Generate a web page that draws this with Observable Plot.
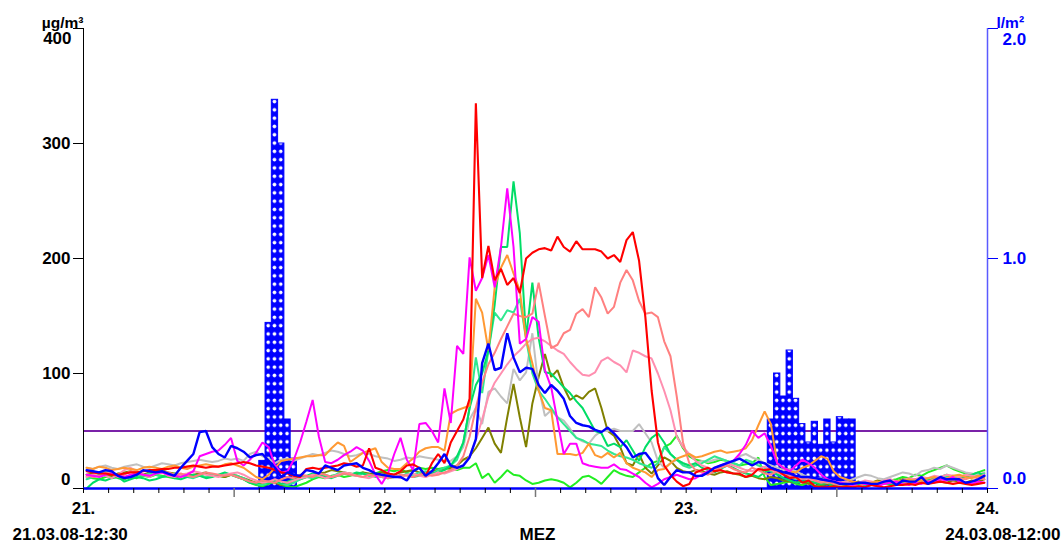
<!DOCTYPE html>
<html><head><meta charset="utf-8">
<script src="https://cdn.jsdelivr.net/npm/d3@7"></script>
<script src="https://cdn.jsdelivr.net/npm/@observablehq/plot@0.6"></script>
<style>body{margin:0;background:#fff}</style>
</head><body><div id="chart"></div>
<script>
// ---- labels ----
const dayLabels = ["21.", "22.", "23.", "24."];
const dayHours = [0, 24, 48, 72];
const leftTicks = [0, 100, 200, 300, 400];
const rightTicks = [0.0, 1.0, 2.0];
const leftUnit = "µg/m³";
const rightUnit = "l/m²";
const startLabel = "21.03.08-12:30";
const zoneLabel = "MEZ";
const endLabel = "24.03.08-12:00";
const limitValue = 50;

// ---- PM10 series (half-hourly, 144 values each) ----
const red = [15,14,13,13,12,12,13,14,14,15,16,16,17,17,18,18,19,20,19,18,19,19,20,21,
  22,23,22,20,19,18,16,14,13,11,10,17,18,17,18,19,20,22,21,19,20,35,18,16,
  13,12,15,20,21,18,11,22,30,22,40,50,60,78,335,183,211,181,191,177,183,170,200,205,
  208,209,207,219,210,206,215,208,208,208,206,200,203,197,216,223,198,149,85,40,20,12,6,2,
  4,14,16,18,15,16,14,13,13,10,12,17,16,17,16,12,9,10,5,7,2,1,1,2,
  1,2,1,2,1,3,2,1,2,3,3,4,3,5,4,5,6,5,4,5,4,3,4,5];
const salmon = [12,10,11,14,13,10,12,15,14,12,11,13,15,14,12,13,11,10,12,14,13,12,11,12,
  10,8,6,5,7,6,5,8,10,9,12,11,10,13,12,10,11,13,12,11,10,12,11,10,
  9,10,12,11,10,12,13,11,12,14,16,20,28,45,70,92,108,118,130,141,152,150,149,152,
  179,150,122,125,135,138,152,156,149,175,166,152,158,179,190,181,163,152,153,149,128,115,80,40,
  22,16,14,12,15,18,20,17,15,14,18,16,13,12,15,14,11,9,8,10,7,5,6,4,
  3,4,3,2,4,5,3,4,6,5,4,6,8,7,6,8,9,8,7,9,8,10,9,8];
const pink = [10,12,14,11,9,12,16,18,15,12,10,13,14,11,10,12,13,15,14,12,11,10,12,13,
  14,12,9,7,5,6,8,6,5,7,9,10,12,11,9,10,12,14,13,11,10,9,11,12,
  10,11,9,12,13,11,10,12,14,13,15,17,20,28,42,60,80,92,100,108,115,120,126,130,
  131,128,124,120,117,110,104,99,98,101,111,114,110,107,101,120,118,115,113,100,85,68,45,36,
  30,24,20,18,16,19,22,20,18,16,15,17,19,16,14,12,13,10,9,8,7,6,5,6,
  5,6,4,5,7,6,5,7,8,6,7,9,8,10,9,11,10,12,11,10,12,11,10,12];
const orange = [18,17,19,18,16,17,18,17,16,18,19,18,17,19,20,18,17,19,20,21,20,19,21,22,
  20,18,14,10,8,12,18,24,25,26,27,28,28,29,29,35,40,37,23,27,31,33,35,23,
  18,17,17,22,26,32,35,36,36,33,65,68,70,72,165,153,120,175,192,203,187,172,130,109,
  85,70,68,30,30,30,29,31,39,29,27,31,27,31,22,18,16,14,10,16,17,22,26,28,
  30,27,28,30,32,33,31,32,33,35,42,55,67,56,22,18,15,14,18,20,24,28,26,15,
  10,8,6,5,4,5,6,4,5,6,7,8,6,7,9,10,8,9,11,12,10,9,11,10];
const magenta = [12,11,10,12,13,11,10,12,13,12,11,13,14,12,11,10,12,15,28,30,32,33,38,44,
  24,20,25,31,40,36,20,14,15,25,40,58,77,45,23,22,25,29,32,36,33,24,12,4,
  13,30,44,25,16,56,57,50,40,87,57,124,117,201,172,183,203,175,210,261,210,126,130,149,
  145,103,88,59,30,39,39,22,20,19,18,18,21,17,16,13,10,5,1,4,8,10,12,10,
  8,9,12,15,18,20,22,24,30,38,50,44,48,37,22,18,15,20,25,22,18,12,8,6,
  5,4,3,5,4,3,2,4,5,6,4,3,5,4,6,5,8,7,10,6,5,4,6,5];
const springGreen = [0,5,8,7,9,10,6,8,10,9,7,8,10,11,9,8,10,12,11,9,10,12,14,12,
  10,8,5,4,6,5,7,4,6,8,10,11,13,12,10,9,11,13,12,14,13,11,12,10,
  9,10,11,12,10,11,12,13,14,16,20,28,40,70,90,100,120,160,210,210,267,222,131,179,
  131,101,100,94,88,83,76,70,60,50,48,37,39,36,42,33,24,36,44,48,40,30,25,22,
  20,22,18,16,14,17,20,18,15,13,12,10,14,16,12,9,7,5,6,8,5,4,5,3,
  3,2,4,3,2,3,4,5,3,4,5,6,4,5,7,8,10,12,9,8,10,12,14,11];
const mintGreen = [8,10,12,15,13,11,9,10,12,11,13,12,10,11,13,12,10,9,11,10,12,11,13,12,
  11,9,6,4,3,5,6,4,3,5,8,10,9,11,12,10,13,14,12,11,13,12,10,11,
  12,11,10,13,12,14,15,13,16,18,20,25,40,70,114,83,120,153,146,155,153,165,130,100,
  85,78,70,62,56,50,44,42,39,38,37,33,30,28,27,25,22,20,18,22,36,30,25,20,
  18,20,22,25,28,26,24,22,20,25,23,20,18,15,12,14,10,8,9,7,6,5,6,5,
  4,5,3,4,5,4,3,5,6,4,5,7,6,8,7,9,8,10,11,9,12,10,11,13];
const lime = [10,9,8,10,11,9,8,10,9,11,10,12,11,10,9,11,12,10,11,13,12,11,10,12,
  10,8,5,3,2,4,6,3,2,1,3,5,8,10,9,11,12,10,11,13,14,12,13,15,
  16,15,17,14,16,18,17,18,17,18,17,16,18,18,22,9,13,5,10,16,12,11,7,4,
  5,7,8,7,5,1,5,10,11,8,4,10,16,13,11,10,14,18,22,24,36,39,46,35,
  28,25,24,22,23,25,24,22,20,21,22,27,10,3,4,5,6,4,3,5,2,3,4,2,
  3,4,2,3,5,4,6,5,7,8,10,9,12,11,14,16,18,20,17,15,13,12,14,16];
const olive = [12,13,14,12,11,13,14,15,13,12,14,15,16,14,13,12,11,12,13,14,12,11,10,12,
  11,9,7,5,4,6,5,3,4,6,8,10,12,13,14,16,15,14,13,12,14,13,12,14,
  13,12,14,15,16,14,13,15,16,17,18,20,25,28,35,44,53,39,31,62,91,62,36,74,
  97,117,97,103,88,77,81,78,84,87,70,50,46,36,22,20,30,18,13,20,27,24,18,15,
  14,16,15,13,12,14,15,13,12,10,11,9,8,10,9,7,6,5,6,4,5,3,4,5,
  4,3,5,6,4,5,7,6,5,6,8,7,6,5,7,8,6,5,7,6,5,7,6,8];
const silver = [18,17,19,20,18,17,19,20,21,19,18,20,22,21,20,22,23,24,25,24,23,24,26,25,
  26,24,30,32,28,26,22,25,26,24,26,28,30,29,31,33,32,30,28,29,31,30,28,27,
  26,24,25,27,26,28,27,26,25,24,24,28,36,60,70,56,84,87,80,74,104,94,101,135,
  88,63,68,62,59,52,44,41,39,46,50,50,52,50,50,50,56,48,40,24,18,22,25,22,
  20,22,24,23,25,26,24,22,28,30,27,25,22,20,18,16,17,15,12,10,8,9,7,6,
  5,6,8,10,12,11,9,8,10,12,14,13,11,15,16,18,17,20,18,16,14,13,12,14];
const blue = [16,15,14,16,15,11,9,10,12,16,15,14,15,13,11,18,24,30,49,50,36,30,27,37,
  35,32,27,29,30,24,18,10,14,12,11,16,15,13,20,18,16,20,21,22,18,16,13,12,
  11,10,10,7,15,18,11,15,22,30,20,18,20,27,43,109,126,103,105,135,114,101,105,104,
  90,83,90,85,78,63,57,55,54,51,49,53,48,42,36,27,30,31,24,9,3,10,16,14,
  14,11,11,14,18,20,22,24,26,23,20,23,22,18,16,14,13,11,10,10,9,8,7,6,
  4,4,4,5,5,4,4,6,7,3,7,6,6,10,4,7,10,8,8,8,5,6,8,11];

// drawing order and colours
const seriesList = [lime, olive, silver, mintGreen, springGreen, pink, salmon, orange, magenta, red, blue];
const seriesColors = ["#22ee22", "#808000", "#c0c0c0", "#30e890", "#00dd66", "#ff8fb0", "#ff8080", "#ff9933", "#ff00ff", "#ff0000", "#0000ff"];
const seriesWidths = [2, 2, 2, 2, 2, 2, 2, 2, 2, 2.1, 2.4];

// ---- precipitation (l/m², half-hour slots) ----
const precipSlots = [28,29,30,31,32,33, 109,110,111,112,113,114,115,116,117,118,119,120,121,122];
const precipValues = [0.12,0.72,1.69,1.50,0.30,0.13, 0.30,0.50,0.40,0.60,0.39,0.28,0.20,0.29,0.19,0.30,0.20,0.31,0.30,0.30];

// ---- derived ----
const ratio = 400 / 2.0; // left axis units per l/m²
const precip = precipSlots.map((s, i) => ({t1: s / 2, t2: (s + 1) / 2, v: precipValues[i] * ratio}));
const twoHourTicks = d3.range(0, 73, 2).filter(h => h % 24 !== 12);
const noonTicks = [12, 36, 60];
const font = "Liberation Sans, Arial, Helvetica, sans-serif";
const txt = {fontSize: 17, fontWeight: "bold", fontFamily: font};

const marks = [
  Plot.ruleY([limitValue], {stroke: "#7a22a8", strokeWidth: 2}),
  Plot.rect(precip, {x1: "t1", x2: "t2", y1: 0, y2: "v", fill: "url(#dots)", stroke: "#0000ff", strokeWidth: 1}),
  Plot.ruleX([0], {stroke: "black", strokeWidth: 1}),
  Plot.ruleX([72], {stroke: "#5a5aff", strokeWidth: 1.5}),
  ...seriesList.map((arr, j) => Plot.line(arr, {x: (d, i) => (i + 0.5) / 2, y: d => d, stroke: seriesColors[j], strokeWidth: seriesWidths[j], strokeLinejoin: "miter"})),
  Plot.ruleY([0], {stroke: "#0000ff", strokeWidth: 2.5}),
  Plot.axisX({ticks: twoHourTicks, tickSize: 5, tickFormat: () => "", label: null, stroke: "black"}),
  Plot.axisX({ticks: noonTicks, tickSize: 9, tickFormat: () => "", label: null, stroke: "#777", strokeWidth: 1.5}),
  Plot.axisX({ticks: dayHours, tickSize: 0, tickPadding: 13, tickFormat: d => dayLabels[dayHours.indexOf(d)], label: null, ...txt, fill: "black"}),
  Plot.axisY({ticks: leftTicks, tickSize: 10, tickFormat: () => "", label: null, stroke: "black"}),
  Plot.axisY({anchor: "right", ticks: rightTicks.map(v => v * ratio), tickSize: 10, tickFormat: () => "", label: null, stroke: "#0000ff"}),
  // left tick labels
  Plot.text(leftTicks.filter(v => v > 0 && v < 400), {y: d => d, text: d => String(d), frameAnchor: "left", textAnchor: "end", dx: -13, ...txt, fill: "black"}),
  Plot.text([400], {y: d => d, text: d => String(d), frameAnchor: "left", textAnchor: "end", dx: -12, dy: 10, ...txt, fill: "black"}),
  Plot.text([0], {y: d => d, text: d => String(d), frameAnchor: "left", textAnchor: "end", dx: -13, dy: -9, ...txt, fill: "black"}),
  // right tick labels
  Plot.text([rightTicks[1]], {y: d => d * ratio, text: d => d.toFixed(1), frameAnchor: "right", textAnchor: "start", dx: 15, ...txt, fill: "#0000ff"}),
  Plot.text([rightTicks[2]], {y: d => d * ratio, text: d => d.toFixed(1), frameAnchor: "right", textAnchor: "start", dx: 15, dy: 11, ...txt, fill: "#0000ff"}),
  Plot.text([rightTicks[0]], {y: d => d * ratio, text: d => d.toFixed(1), frameAnchor: "right", textAnchor: "start", dx: 15, dy: -10, ...txt, fill: "#0000ff"}),
  // units
  Plot.text([leftUnit], {text: d => d, frameAnchor: "top-left", textAnchor: "end", dx: 0, dy: -12, ...txt, fontSize: 15.5, fill: "black"}),
  Plot.text([rightUnit], {text: d => d, frameAnchor: "top-right", textAnchor: "start", dx: 9, dy: -12, ...txt, fontSize: 15.5, fill: "#0000ff"}),
  // bottom labels
  Plot.text([startLabel], {text: d => d, frameAnchor: "bottom-left", textAnchor: "start", dx: -71, dy: 51, ...txt, fill: "black"}),
  Plot.text([zoneLabel], {text: d => d, frameAnchor: "bottom", textAnchor: "middle", dx: 2, dy: 51, ...txt, fill: "black"}),
  Plot.text([endLabel], {text: d => d, frameAnchor: "bottom-right", textAnchor: "end", dx: 73, dy: 51, ...txt, fill: "black"})
];

const svg = Plot.plot({
  width: 1064, height: 549,
  marginLeft: 83, marginRight: 77, marginTop: 28, marginBottom: 61,
  x: {domain: [0, 72], axis: null},
  y: {domain: [0, 400], axis: null},
  style: {fontFamily: font, fontSize: "17px", fontWeight: "bold", background: "white", overflow: "visible"},
  marks
});

// dotted fill pattern for the precipitation bars, aligned to half-hour slots
const xs = svg.scale("x");
const slotW = xs.apply(0.5) - xs.apply(0);
const ns = "http://www.w3.org/2000/svg";
const defs = document.createElementNS(ns, "defs");
const ph = 8.3;
defs.innerHTML = `<pattern id="dots" patternUnits="userSpaceOnUse" x="${xs.apply(0)}" y="${svg.scale("y").apply(400) + 3}" width="${slotW}" height="${ph}"><rect width="${slotW}" height="${ph}" fill="#0000ff"/><circle cx="${slotW / 2}" cy="${ph / 2}" r="1.8" fill="#ffffff"/></pattern>`;
svg.insertBefore(defs, svg.firstChild);
document.getElementById("chart").appendChild(svg);
</script>
</body></html>
